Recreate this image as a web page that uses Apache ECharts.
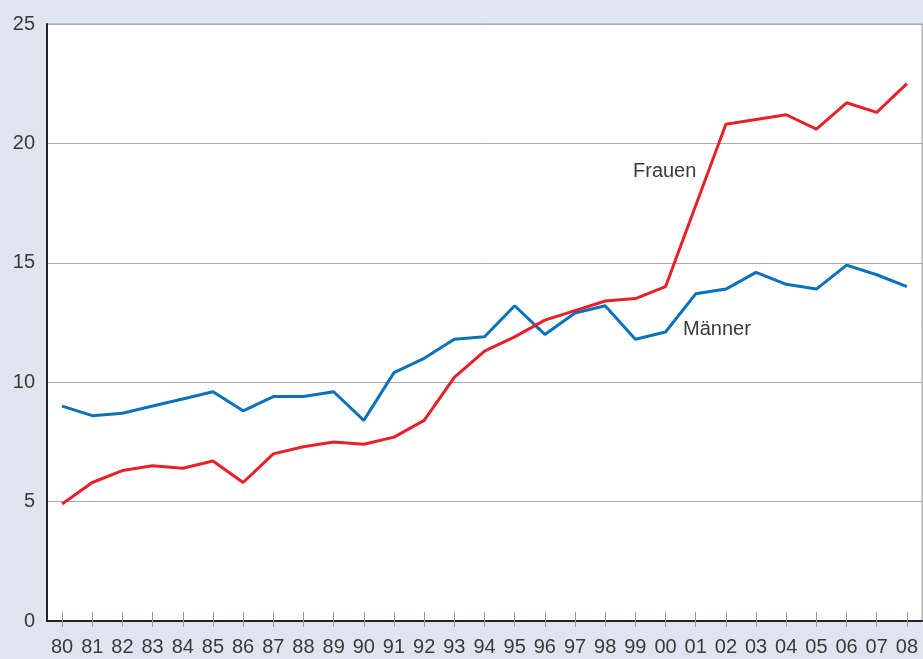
<!DOCTYPE html>
<html>
<head>
<meta charset="utf-8">
<script src="https://cdn.jsdelivr.net/npm/echarts@6/dist/echarts.min.js"></script>
<style>
html,body{margin:0;padding:0;background:#e0e4f0;}
#c{width:923px;height:659px;}
</style>
</head>
<body>
<div id="c"></div>
<script>
const years = ['80','81','82','83','84','85','86','87','88','89','90','91','92','93','94','95','96','97','98','99','00','01','02','03','04','05','06','07','08'];
const maenner = [9.0,8.6,8.7,9.0,9.3,9.6,8.8,9.4,9.4,9.6,8.4,10.4,11.0,11.8,11.9,13.2,12.0,12.9,13.2,11.8,12.1,13.7,13.9,14.6,14.1,13.9,14.9,14.5,14.0];
const frauen = [4.9,5.8,6.3,6.5,6.4,6.7,5.8,7.0,7.3,7.5,7.4,7.7,8.4,10.2,11.3,11.9,12.6,13.0,13.4,13.5,14.0,17.4,20.8,21.0,21.2,20.6,21.7,21.3,22.5];
const yTicks = [0,5,10,15,20,25];

const font = '"Liberation Sans", Arial, Helvetica, sans-serif';
const chart = echarts.init(document.getElementById('c'), null, {renderer:'canvas'});
chart.setOption({
  backgroundColor: '#e0e4f0',
  animation: false,
  grid: {left:47, top:24, right:1, bottom:38, show:true, backgroundColor:'#ffffff', borderColor:'#999999', borderWidth:1},
  xAxis: [{
    type:'category', data: years, boundaryGap:true,
    axisLine:{show:true, lineStyle:{color:'#222', width:2}},
    axisTick:{show:true, alignWithLabel:true, length:6, lineStyle:{color:'#999', width:1}},
    axisLabel:{color:'#3a3a3a', fontSize:20, fontFamily:font, margin:16, interval:0},
    splitLine:{show:false}
  },{
    type:'category', data: years, boundaryGap:true, position:'bottom',
    axisLine:{show:false},
    axisTick:{show:true, inside:true, alignWithLabel:true, length:9, lineStyle:{color:'#999', width:1}},
    axisLabel:{show:false},
    splitLine:{show:false}
  }],
  yAxis: {
    type:'value', min:yTicks[0], max:yTicks[yTicks.length-1], interval:5,
    axisLine:{show:true, lineStyle:{color:'#222', width:2}},
    axisTick:{show:false},
    axisLabel:{color:'#3a3a3a', fontSize:20, fontFamily:font, margin:12, padding:[0,0,10,0]},
    splitLine:{show:true, lineStyle:{color:'#aaaaaa', width:1}}
  },
  series: [
    {name:'Männer', type:'line', data:maenner, symbol:'none', lineStyle:{color:'#0a72b9', width:3}, z:3},
    {name:'Frauen', type:'line', data:frauen, symbol:'none', lineStyle:{color:'#e8202a', width:3}, z:4}
  ],
  graphic: [
    {type:'text', left:633, top:161, z:10, style:{text:'Frauen', fontSize:20, fontFamily:font, fill:'#3a3a3a'}},
    {type:'text', left:683, top:319, z:10, style:{text:'Männer', fontSize:20, fontFamily:font, fill:'#3a3a3a'}}
  ]
});
</script>
</body>
</html>
